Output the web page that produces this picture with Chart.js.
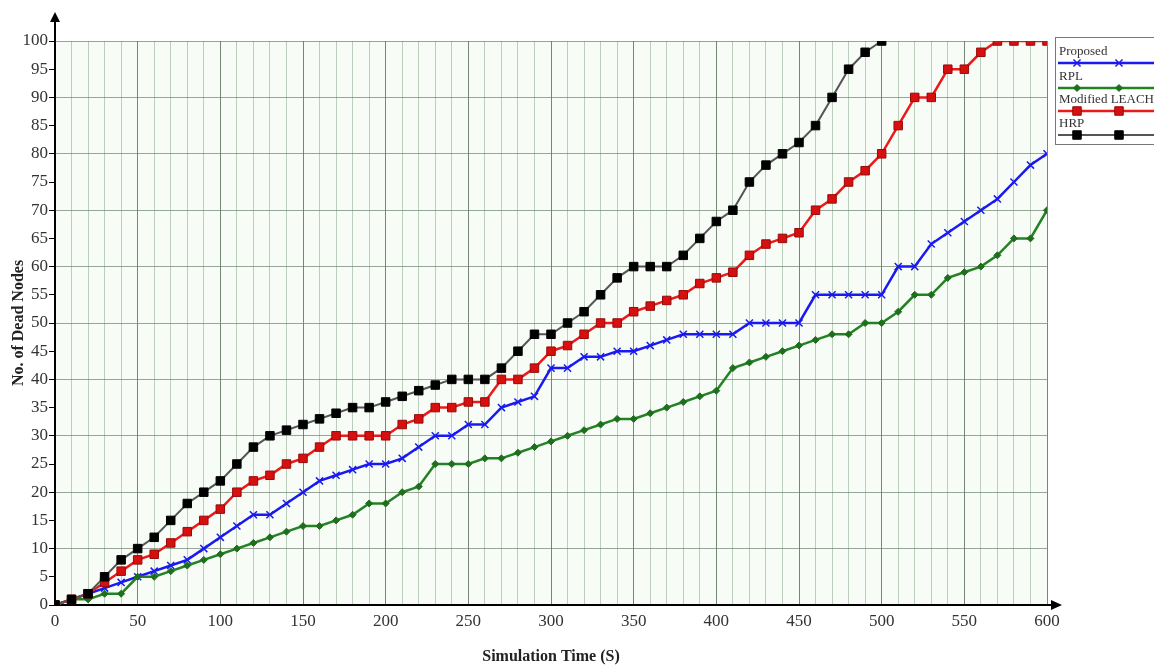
<!DOCTYPE html>
<html>
<head>
<meta charset="utf-8">
<script src="https://cdn.jsdelivr.net/npm/chart.js@4.4.0/dist/chart.umd.min.js"></script>
<style>
  html, body { margin: 0; padding: 0; background: #fff; }
  #wrap { width: 1154px; height: 670px; position: relative; }
</style>
</head>
<body>
<div id="wrap"><canvas id="chartDead"></canvas></div>
<script>
// simulation time (s)
const times = [0, 10, 20, 30, 40, 50, 60, 70, 80, 90,
  100, 110, 120, 130, 140, 150, 160, 170, 180, 190,
  200, 210, 220, 230, 240, 250, 260, 270, 280, 290,
  300, 310, 320, 330, 340, 350, 360, 370, 380, 390,
  400, 410, 420, 430, 440, 450, 460, 470, 480, 490,
  500, 510, 520, 530, 540, 550, 560, 570, 580, 590, 600];

// no. of dead nodes per protocol
const proposed = [0, 1, 2, 3, 4, 5, 6, 7, 8, 10,
  12, 14, 16, 16, 18, 20, 22, 23, 24, 25,
  25, 26, 28, 30, 30, 32, 32, 35, 36, 37,
  42, 42, 44, 44, 45, 45, 46, 47, 48, 48,
  48, 48, 50, 50, 50, 50, 55, 55, 55, 55,
  55, 60, 60, 64, 66, 68, 70, 72, 75, 78, 80];

const rpl = [0, 1, 1, 2, 2, 5, 5, 6, 7, 8,
  9, 10, 11, 12, 13, 14, 14, 15, 16, 18,
  18, 20, 21, 25, 25, 25, 26, 26, 27, 28,
  29, 30, 31, 32, 33, 33, 34, 35, 36, 37,
  38, 42, 43, 44, 45, 46, 47, 48, 48, 50,
  50, 52, 55, 55, 58, 59, 60, 62, 65, 65, 70];

const modLeach = [0, 1, 2, 4, 6, 8, 9, 11, 13, 15,
  17, 20, 22, 23, 25, 26, 28, 30, 30, 30,
  30, 32, 33, 35, 35, 36, 36, 40, 40, 42,
  45, 46, 48, 50, 50, 52, 53, 54, 55, 57,
  58, 59, 62, 64, 65, 66, 70, 72, 75, 77,
  80, 85, 90, 90, 95, 95, 98, 100, 100, 100, 100];

// HRP stops at 500 s
const hrp = [0, 1, 2, 5, 8, 10, 12, 15, 18, 20,
  22, 25, 28, 30, 31, 32, 33, 34, 35, 35,
  36, 37, 38, 39, 40, 40, 40, 42, 45, 48,
  48, 50, 52, 55, 58, 60, 60, 60, 62, 65,
  68, 70, 75, 78, 80, 82, 85, 90, 95, 98, 100];

const xTickLabels = [0, 50, 100, 150, 200, 250, 300, 350, 400, 450, 500, 550, 600];

const toPoints = (arr) => arr.map((v, i) => ({ x: times[i], y: v }));
const serif = "'Liberation Serif', 'DejaVu Serif', serif";

// faint green background behind the grid
const bgPlugin = {
  id: "bgPlugin",
  beforeDraw(chart) {
    const { ctx, chartArea: a } = chart;
    ctx.save();
    ctx.fillStyle = "#f7fcf6";
    ctx.fillRect(a.left, a.top, a.right - a.left, a.bottom - a.top);
    ctx.restore();
  }
};

// axis arrows + hand drawn legend box
const decoPlugin = {
  id: "decoPlugin",
  afterDraw(chart) {
    const { ctx, chartArea: a } = chart;
    ctx.save();
    ctx.strokeStyle = "#000";
    ctx.fillStyle = "#000";
    ctx.lineWidth = 2;
    ctx.beginPath();
    ctx.moveTo(a.left, a.top);
    ctx.lineTo(a.left, 20);
    ctx.moveTo(a.right, a.bottom);
    ctx.lineTo(1052, a.bottom);
    ctx.stroke();
    ctx.beginPath();
    ctx.moveTo(a.left, 12);
    ctx.lineTo(a.left - 5, 22);
    ctx.lineTo(a.left + 5, 22);
    ctx.closePath();
    ctx.fill();
    ctx.beginPath();
    ctx.moveTo(1062, a.bottom);
    ctx.lineTo(1051, a.bottom - 5);
    ctx.lineTo(1051, a.bottom + 5);
    ctx.closePath();
    ctx.fill();

    // legend
    ctx.fillStyle = "#ffffff";
    ctx.fillRect(1055, 37, 110, 108);
    ctx.strokeStyle = "#777";
    ctx.lineWidth = 1;
    ctx.strokeRect(1055.5, 37.5, 110, 107);
    const rows = [52, 77, 100, 124];
    chart.data.datasets.forEach((ds, i) => {
      const ty = rows[i];
      ctx.font = "13px " + serif;
      ctx.fillStyle = "#333";
      ctx.textBaseline = "middle";
      ctx.textAlign = "left";
      ctx.fillText(ds.label, 1059, ty);
      const ly = ty + 11;
      ctx.strokeStyle = ds.borderColor;
      ctx.lineWidth = ds.borderWidth;
      ctx.beginPath();
      ctx.moveTo(1058, ly);
      ctx.lineTo(1154, ly);
      ctx.stroke();
      [1077, 1119].forEach((mx) => {
        ctx.fillStyle = ds.pointBackgroundColor;
        ctx.strokeStyle = ds.pointBorderColor;
        ctx.lineWidth = ds.pointBorderWidth;
        Chart.helpers.drawPoint(ctx, {
          pointStyle: ds.pointStyle,
          radius: ds.pointRadius,
          borderWidth: ds.pointBorderWidth
        }, mx, ly);
      });
    });
    ctx.restore();
  }
};

const chartDead = document.getElementById("chartDead");

new Chart(chartDead, {
  type: "line",
  data: {
    datasets: [
      {
        label: "Proposed",
        data: toPoints(proposed),
        borderColor: "rgb(25,25,240)",
        backgroundColor: "rgb(25,25,240)",
        borderWidth: 2.5,
        pointStyle: "crossRot",
        pointRadius: 5,
        pointBorderWidth: 1.5,
        pointBackgroundColor: "rgb(25,25,240)",
        pointBorderColor: "rgb(25,25,240)",
        order: 3,
      },
      {
        label: "RPL",
        data: toPoints(rpl),
        borderColor: "rgb(35,130,35)",
        backgroundColor: "rgb(35,130,35)",
        borderWidth: 2.5,
        pointStyle: "rectRot",
        pointRadius: 3.5,
        pointBorderWidth: 1,
        pointBackgroundColor: "rgb(30,110,30)",
        pointBorderColor: "rgb(30,110,30)",
        order: 2,
      },
      {
        label: "Modified LEACH",
        data: toPoints(modLeach),
        borderColor: "rgb(235,25,25)",
        backgroundColor: "rgb(235,25,25)",
        borderWidth: 2.5,
        pointStyle: "rect",
        pointRadius: 6,
        pointBorderWidth: 1,
        pointBackgroundColor: "rgb(215,15,15)",
        pointBorderColor: "rgb(150,10,10)",
        order: 1,
      },
      {
        label: "HRP",
        data: toPoints(hrp),
        borderColor: "rgb(85,85,85)",
        backgroundColor: "#000",
        borderWidth: 2,
        pointStyle: "rect",
        pointRadius: 6,
        pointBorderWidth: 1,
        pointBackgroundColor: "#000",
        pointBorderColor: "#000",
        order: 0,
      },
    ],
  },
  options: {
    responsive: true,
    maintainAspectRatio: false,
    animation: false,
    layout: { padding: { top: 41, right: 107, left: 0, bottom: 0 } },
    plugins: {
      legend: { display: false },
      tooltip: { enabled: false },
    },
    elements: { line: { tension: 0 } },
    scales: {
      x: {
        type: "linear",
        min: 0,
        max: 600,
        afterFit: (s) => { s.height = 65; },
        afterBuildTicks: (s) => { s.ticks = times.map((t) => ({ value: t })); },
        ticks: {
          autoSkip: false,
          maxRotation: 0,
          padding: 0,
          color: "#333",
          font: { family: serif, size: 17 },
          callback: (v) => (xTickLabels.includes(v) ? String(v) : ""),
        },
        grid: {
          color: (c) => (c.tick && c.tick.value % 50 === 0 ? "rgba(85,105,85,0.8)" : "rgba(140,165,140,0.55)"),
          lineWidth: 1,
          tickLength: 6,
          tickColor: "transparent",
        },
        border: { color: "#000", width: 2 },
        title: {
          display: true,
          text: "Simulation Time (S)",
          color: "#222",
          font: { family: serif, size: 16, weight: "bold" },
          padding: { top: 4, bottom: 4 },
        },
      },
      y: {
        min: 0,
        max: 100,
        afterFit: (s) => { s.width = 55; },
        ticks: {
          stepSize: 5,
          padding: 1,
          color: "#333",
          font: { family: serif, size: 17 },
        },
        grid: {
          color: (c) => (c.tick && c.tick.value % 10 === 0 ? "rgba(100,120,100,0.65)" : "transparent"),
          lineWidth: 1,
          tickLength: 6,
          tickColor: "#000",
        },
        border: { color: "#000", width: 2 },
        title: {
          display: true,
          text: "No. of Dead Nodes",
          color: "#222",
          font: { family: serif, size: 16, weight: "bold" },
          padding: { top: 9, bottom: 0 },
        },
      },
    },
  },
  plugins: [bgPlugin, decoPlugin],
});
</script>
</body>
</html>
